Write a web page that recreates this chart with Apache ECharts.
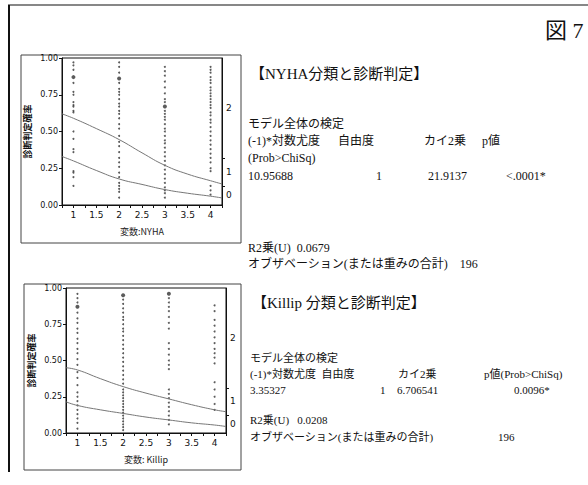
<!DOCTYPE html>
<html>
<head>
<meta charset="utf-8">
<script src="https://cdn.jsdelivr.net/npm/echarts@6/dist/echarts.min.js"></script>
<style>
  html, body { margin: 0; padding: 0; background: #fff; }
  #main { width: 588px; height: 485px; }
</style>
</head>
<body>
<div id="main"></div>
<script>
var curveX = [0.75, 1, 1.5, 2, 2.5, 3, 3.5, 4, 4.25];

// NYHA chart
var nyhaUpper = [0.62, 0.59, 0.52, 0.445, 0.355, 0.27, 0.21, 0.165, 0.143];
var nyhaLower = [0.33, 0.30, 0.235, 0.177, 0.14, 0.105, 0.08, 0.06, 0.048];
var nyhaCol1 = [0.97, 0.95, 0.92, 0.83, 0.77, 0.75, 0.70, 0.68, 0.67, 0.64, 0.63, 0.50, 0.45, 0.38, 0.36, 0.23, 0.22, 0.19, 0.13];
var nyhaCol2 = [0.97, 0.94, 0.90, 0.83, 0.79, 0.77, 0.75, 0.72, 0.69, 0.67, 0.64, 0.62, 0.59, 0.55, 0.52, 0.47, 0.43, 0.40, 0.36, 0.32, 0.29, 0.26, 0.22, 0.19, 0.15, 0.13, 0.11, 0.09, 0.05];
var nyhaCol3 = [0.94, 0.91, 0.88, 0.84, 0.80, 0.76, 0.72, 0.70, 0.64, 0.62, 0.60, 0.58, 0.55, 0.52, 0.50, 0.47, 0.44, 0.42, 0.39, 0.36, 0.33, 0.30, 0.27, 0.24, 0.21, 0.18, 0.15, 0.12, 0.10, 0.08, 0.05];
var nyhaCol4 = [0.94, 0.92, 0.90, 0.87, 0.85, 0.83, 0.80, 0.78, 0.76, 0.74, 0.72, 0.70, 0.68, 0.66, 0.63, 0.61, 0.58, 0.56, 0.53, 0.50, 0.47, 0.44, 0.41, 0.38, 0.35, 0.32, 0.29, 0.25, 0.23, 0.13, 0.10, 0.07];
var nyhaBig = [[1, 0.87], [2, 0.86], [3, 0.67]];
var nyhaCuts = [0.13, 0.32];
var nyhaMids = [0.065, 0.225, 0.66];

// Killip chart
var killipUpper = [0.45, 0.435, 0.375, 0.32, 0.275, 0.235, 0.195, 0.16, 0.147];
var killipLower = [0.215, 0.19, 0.16, 0.135, 0.11, 0.09, 0.07, 0.055, 0.045];
var killipCol1 = [0.96, 0.93, 0.90, 0.83, 0.79, 0.76, 0.72, 0.69, 0.65, 0.62, 0.58, 0.55, 0.51, 0.47, 0.42, 0.38, 0.33, 0.28, 0.25, 0.22, 0.19, 0.16, 0.13, 0.10, 0.07, 0.03];
var killipCol2 = [0.92, 0.89, 0.86, 0.83, 0.80, 0.78, 0.75, 0.72, 0.70, 0.67, 0.64, 0.61, 0.58, 0.55, 0.52, 0.49, 0.46, 0.43, 0.40, 0.37, 0.34, 0.30, 0.28, 0.26, 0.24, 0.22, 0.20, 0.18, 0.16, 0.14, 0.12, 0.10, 0.08, 0.06, 0.04, 0.02];
var killipCol3 = [0.93, 0.90, 0.87, 0.84, 0.80, 0.76, 0.72, 0.62, 0.58, 0.54, 0.50, 0.47, 0.44, 0.30, 0.27, 0.24, 0.21, 0.18, 0.15, 0.12, 0.09, 0.06];
var killipCol4 = [0.88, 0.84, 0.78, 0.74, 0.70, 0.66, 0.62, 0.58, 0.55, 0.52, 0.48, 0.35, 0.30, 0.25, 0.20, 0.16];
var killipBig = [[1, 0.87], [2, 0.95], [3, 0.96]];
var killipCuts = [0.125, 0.31];
var killipMids = [0.065, 0.22, 0.655];

var levels = ['0', '1', '2'];
var xTickLabels = [1, 1.5, 2, 2.5, 3, 3.5, 4];
var yTickLabels = ['0.00', '0.25', '0.50', '0.75', '1.00'];

var serif = "'Liberation Serif', 'DejaVu Serif', 'Noto Sans CJK JP', serif";
var cjk = "'Noto Sans CJK JP', sans-serif";

function pairs(xs, ys) {
    return xs.map(function (x, i) { return [x, ys[i]]; });
}
function column(x, ys) {
    return ys.map(function (y) { return [x, y]; });
}
function dots(cols) {
    var out = [];
    cols.forEach(function (c, i) { out = out.concat(column(i + 1, c)); });
    return out;
}

function xAxisFor(idx, name) {
    return {
        type: 'value', gridIndex: idx, min: 0.75, max: 4.25, interval: 0.25,
        name: name, nameLocation: 'middle', nameGap: 22,
        nameTextStyle: { fontFamily: cjk, fontSize: 9, color: '#222' },
        axisLine: { lineStyle: { color: '#111' } },
        axisTick: { length: 3, lineStyle: { color: '#111' } },
        splitLine: { show: false },
        axisLabel: {
            fontSize: 9, color: '#111', margin: 5, fontFamily: 'DejaVu Sans',
            formatter: function (v) { return xTickLabels.indexOf(v) >= 0 ? String(v) : ''; }
        }
    };
}
function leftAxisFor(idx) {
    return {
        type: 'value', gridIndex: idx, min: 0, max: 1, interval: 0.25,
        name: '診断判定確率', nameLocation: 'middle', nameGap: 30, nameRotate: 90,
        nameTextStyle: { fontFamily: cjk, fontSize: 9, color: '#111', fontWeight: 'bold' },
        axisLine: { show: true, lineStyle: { color: '#111' } },
        axisTick: { show: true, length: 3, lineStyle: { color: '#111' } },
        splitLine: { show: false },
        axisLabel: {
            fontSize: 8, color: '#111', margin: 4, fontFamily: 'DejaVu Sans',
            formatter: function (v) { return yTickLabels[Math.round(v * 4)]; }
        }
    };
}
function rightAxisFor(idx, cuts, mids) {
    return {
        type: 'value', gridIndex: idx, position: 'right', min: 0, max: 1,
        axisLine: { show: true, lineStyle: { color: '#111' } },
        axisTick: { show: true, length: 3, customValues: cuts, lineStyle: { color: '#111' } },
        splitLine: { show: false },
        axisLabel: {
            customValues: mids, fontSize: 9, color: '#111', margin: 4, fontFamily: 'DejaVu Sans',
            formatter: function (v) { return levels[mids.indexOf(v)]; }
        }
    };
}
function curve(idx, ys) {
    return {
        type: 'line', xAxisIndex: idx, yAxisIndex: idx * 2, smooth: true, symbol: 'none',
        lineStyle: { color: '#777', width: 1 }, data: pairs(curveX, ys), z: 3
    };
}
function scatter(idx, data, size) {
    return {
        type: 'scatter', xAxisIndex: idx, yAxisIndex: idx * 2, symbolSize: size,
        itemStyle: { color: '#333' }, data: data, silent: true
    };
}

function txt(x, y, s, size, font) {
    return {
        type: 'text', x: x, y: y, silent: true,
        style: { text: s, fill: '#111', font: (size || 12) + 'px ' + (font || serif), verticalAlign: 'middle' }
    };
}

var chart = echarts.init(document.getElementById('main'), null, { renderer: 'svg' });

chart.setOption({
    animation: false,
    backgroundColor: '#fff',
    grid: [
        { left: 62, top: 58, width: 160, height: 147, show: true, borderColor: '#111', borderWidth: 1 },
        { left: 66, top: 288, width: 160, height: 145, show: true, borderColor: '#111', borderWidth: 1 }
    ],
    xAxis: [xAxisFor(0, '変数:NYHA'), xAxisFor(1, '変数: Killip')],
    yAxis: [
        leftAxisFor(0), rightAxisFor(0, nyhaCuts, nyhaMids),
        leftAxisFor(1), rightAxisFor(1, killipCuts, killipMids)
    ],
    series: [
        scatter(0, dots([nyhaCol1, nyhaCol2, nyhaCol3, nyhaCol4]), 2),
        scatter(0, nyhaBig, 4),
        curve(0, nyhaUpper), curve(0, nyhaLower),
        scatter(1, dots([killipCol1, killipCol2, killipCol3, killipCol4]), 2),
        scatter(1, killipBig, 4),
        curve(1, killipUpper), curve(1, killipLower)
    ],
    graphic: [
        // page frame
        { type: 'line', shape: { x1: 8, y1: 5, x2: 588, y2: 5 }, style: { stroke: '#111', lineWidth: 1.2 } },
        { type: 'line', shape: { x1: 9, y1: 5, x2: 9, y2: 472 }, style: { stroke: '#111', lineWidth: 2 } },
        // boxes round the two plots
        { type: 'rect', shape: { x: 21, y: 55, width: 220, height: 188 }, style: { fill: 'none', stroke: '#444', lineWidth: 1 } },
        { type: 'rect', shape: { x: 24, y: 284, width: 217, height: 186 }, style: { fill: 'none', stroke: '#444', lineWidth: 1 } },

        txt(545, 30, '図 7', 22),

        txt(250, 74, '【NYHA分類と診断判定】', 15),
        txt(248, 124, 'モデル全体の検定', 12),
        txt(248, 141, '(-1)*対数尤度', 12), txt(338, 141, '自由度', 12), txt(424, 141, 'カイ2乗', 12), txt(482, 141, 'p値', 12),
        txt(248, 158, '(Prob>ChiSq)', 12),
        txt(248, 176, '10.95688', 12), txt(376, 176, '1', 12), txt(428, 176, '21.9137', 12), txt(506, 176, '<.0001*', 12),
        txt(248, 248, 'R2乗(U)  0.0679', 12),
        txt(248, 264, 'オブザベーション(または重みの合計)    196', 12),

        txt(252, 303, '【Killip 分類と診断判定】', 15),
        txt(250, 358, 'モデル全体の検定', 11),
        txt(250, 374, '(-1)*対数尤度  自由度', 11), txt(398, 374, 'カイ2乗', 11), txt(484, 374, 'p値(Prob>ChiSq)', 11),
        txt(250, 390, '3.35327', 11), txt(380, 390, '1', 11), txt(397, 390, '6.706541', 11), txt(514, 390, '0.0096*', 11),
        txt(250, 420, 'R2乗(U)   0.0208', 11),
        txt(250, 437, 'オブザベーション(または重みの合計)', 11), txt(498, 437, '196', 11)
    ]
});
</script>
</body>
</html>
